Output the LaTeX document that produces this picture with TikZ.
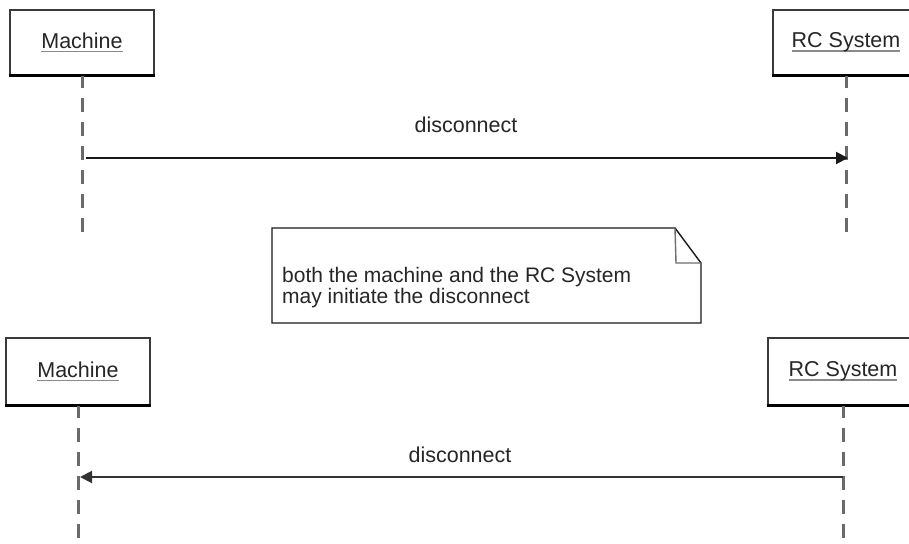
\documentclass[tikz,border=0pt]{standalone}
\usepackage{fontspec}
\setmainfont{Liberation Sans}
\usetikzlibrary{arrows.meta}
\definecolor{lifegray}{HTML}{6A6A6A}
\definecolor{boxline}{HTML}{3A3A3A}
\definecolor{ulgray}{HTML}{8A8A8A}
\definecolor{foldgray}{HTML}{6E6E6E}
% object name with a thick grey underline
\newcommand\objname[1]{\setbox0\hbox{#1}\makebox[0pt][l]{\textcolor{ulgray}{\rule[-4.2pt]{\wd0}{1.8pt}}}\box0}

\begin{document}
\begin{tikzpicture}[x=1pt,y=-1pt,
  every node/.style={font=\fontsize{21.5}{21}\selectfont, text=black!85},
  objbox/.style={draw=boxline,line width=1.8pt,fill=white,minimum width=144pt,inner sep=0pt},
  lifeline/.style={draw=lifegray,line width=3pt,dash pattern=on 14pt off 10pt,dash phase=2pt},
  msg/.style={draw=black!90,line width=2pt,-{Triangle[length=12pt,width=12pt]}},
  msglabel/.style={inner sep=0pt},
  notebox/.style={draw=black!90,line width=1.4pt,fill=white,line join=miter},
  fold/.style={draw=foldgray,line width=1.4pt}
]
\useasboundingbox[fill=white] (0,0) rectangle (909,543);

% ---- upper scenario: the machine disconnects ----
\node[objbox,minimum height=65pt] (m1) at (82,42.5) {\objname{Machine}};
\node[objbox,minimum height=65pt,minimum width=146pt] (r1) at (846,42.5) {\objname{RC System}};
\draw[black,line width=3pt] (m1.south west) -- (m1.south east);
\draw[black,line width=3pt] (r1.south west) -- (r1.south east);

\coordinate (m1end) at (82,232);
\coordinate (r1end) at (846,232);
\draw[lifeline] (m1.south) -- (m1end);
\draw[lifeline] (r1.south) -- (r1end);

\coordinate (m1msg) at (82,158);
\coordinate (r1msg) at (846,158);
\draw[msg] ([xshift=4pt]m1msg) -- ([xshift=2pt]r1msg);
\node[msglabel] (l1) at (466,125) {disconnect};

% ---- note between the two scenarios ----
\coordinate (nA) at (272,228);
\coordinate (nB) at (675,228);
\coordinate (nC) at (701,263);
\coordinate (nD) at (701,323);
\coordinate (nE) at (272,323);
\coordinate (nF) at (676,263);
\draw[notebox] (nA) -- (nB) -- (nC) -- (nD) -- (nE) -- cycle;
\draw[fold] (nB) -- (nF) -- (nC);
\node[anchor=west,align=left,inner sep=0pt,font=\fontsize{21}{21}\selectfont] (notetext) at (282,288)
  {both the machine and the RC System\\may initiate the disconnect};

% ---- lower scenario: the RC System disconnects ----
\node[objbox,minimum height=67pt] (m2) at (78,371.5) {\objname{Machine}};
\node[objbox,minimum height=67pt,minimum width=150pt] (r2) at (843,371.5) {\objname{RC System}};
\draw[black,line width=3pt] (m2.south west) -- (m2.south east);
\draw[black,line width=3pt] (r2.south west) -- (r2.south east);

\coordinate (m2end) at (78,545);
\coordinate (r2end) at (843,545);
\draw[lifeline] (m2.south) -- (m2end);
\draw[lifeline] (r2.south) -- (r2end);

\coordinate (m2msg) at (78,477);
\coordinate (r2msg) at (843,477);
\draw[msg,draw=black!80] (r2msg) -- ([xshift=2pt]m2msg);
\node[msglabel] (l2) at (460,455) {disconnect};
\end{tikzpicture}
\end{document}
